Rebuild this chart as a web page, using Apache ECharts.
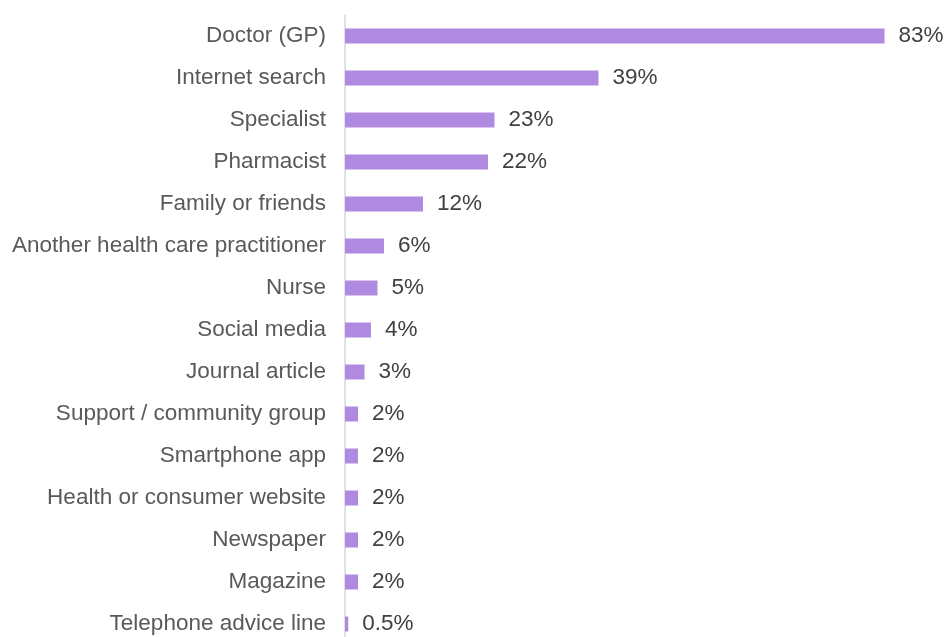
<!DOCTYPE html>
<html>
<head>
<meta charset="utf-8">
<script src="https://cdn.jsdelivr.net/npm/echarts@6/dist/echarts.min.js"></script>
<style>
  html, body { margin: 0; padding: 0; background: #ffffff; overflow: hidden; }
  /* the last row runs past the bottom of the window, so the canvas is taller than the view */
  #chart { width: 946px; height: 660px; }
</style>
</head>
<body>
<div id="chart"></div>
<script>
// Sources of health information (share of respondents, %)
const categories = [
  'Doctor (GP)',
  'Internet search',
  'Specialist',
  'Pharmacist',
  'Family or friends',
  'Another health care practitioner',
  'Nurse',
  'Social media',
  'Journal article',
  'Support / community group',
  'Smartphone app',
  'Health or consumer website',
  'Newspaper',
  'Magazine',
  'Telephone advice line'
];
const shares = [83, 39, 23, 22, 12, 6, 5, 4, 3, 2, 2, 2, 2, 2, 0.5];

const chart = echarts.init(document.getElementById('chart'), null, { renderer: 'canvas' });
const fontFamily = '"Liberation Sans", Arial, sans-serif';

chart.setOption({
  animation: false,
  backgroundColor: '#ffffff',
  grid: { left: 345, top: 15, width: 585, height: 630, containLabel: false },
  xAxis: {
    type: 'value',
    min: 0,
    max: 90,
    show: false
  },
  yAxis: {
    type: 'category',
    data: categories,
    inverse: true,
    axisLine: { show: true, lineStyle: { color: '#d9d9d9', width: 1.5 } },
    axisTick: { show: false },
    splitLine: { show: false },
    axisLabel: {
      color: '#595959',
      fontSize: 22.5,
      fontFamily: fontFamily,
      margin: 19
    }
  },
  series: [{
    type: 'bar',
    data: shares,
    barWidth: 15,
    itemStyle: { color: '#b08ae0' },
    label: {
      show: true,
      position: 'right',
      distance: 14,
      color: '#404040',
      fontSize: 22.5,
      fontFamily: fontFamily,
      formatter: p => p.value + '%'
    }
  }]
});
</script>
</body>
</html>
